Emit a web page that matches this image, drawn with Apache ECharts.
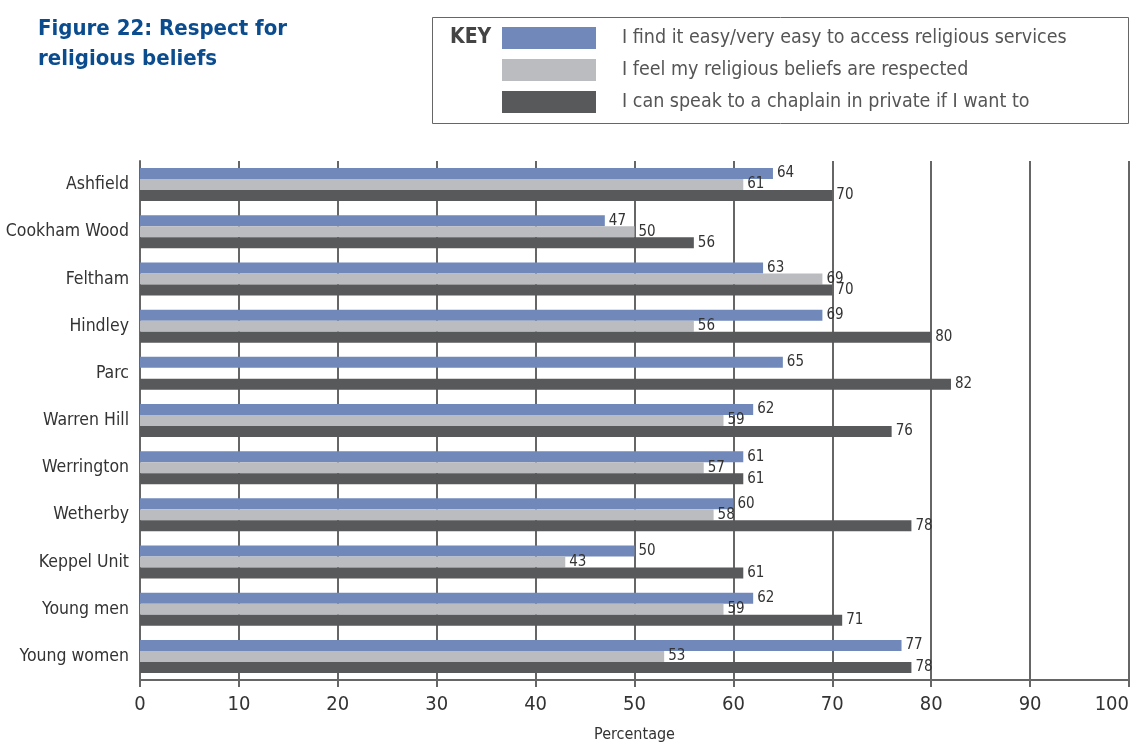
<!DOCTYPE html>
<html><head><meta charset="utf-8">
<script src="https://cdn.jsdelivr.net/npm/echarts@6/dist/echarts.min.js"></script>
<style>html,body{margin:0;padding:0;background:#fff}#c{width:1142px;height:745px}</style>
</head><body><div id="c"></div>
<script>
const categories = ['Ashfield','Cookham Wood','Feltham','Hindley','Parc','Warren Hill','Werrington','Wetherby','Keppel Unit','Young men','Young women'];
const seriesNames = ['I find it easy/very easy to access religious services','I feel my religious beliefs are respected','I can speak to a chaplain in private if I want to'];
const accessServices = [64,47,63,69,65,62,61,60,50,62,77];
const beliefsRespected = [61,50,69,56,null,59,57,58,43,59,53];
const speakChaplain = [70,56,70,80,82,76,61,78,61,71,78];
const xTicks = [0,10,20,30,40,50,60,70,80,90,100];

const FONT = "'Liberation Sans Narrow','DejaVu Sans Condensed','Roboto Condensed',sans-serif";
const colors = ['#7189BA','#BBBCC0','#58595B'];
const chart = echarts.init(document.getElementById('c'));
const mk = (name, data, i) => ({
  name, type:'bar', data: data.map(v => v === null ? '-' : v),
  barWidth: 11, barGap: '0%',
  itemStyle:{color:colors[i]},
  label:{show:true, position:'right', distance:4, color:'#333', fontSize:15, fontFamily:FONT},
  z: 3
});
chart.setOption({
  animation:false,
  textStyle:{fontFamily:FONT},
  title:{text:'Figure 22: Respect for\nreligious beliefs', left:38, top:14, padding:0,
    textStyle:{color:'#0B4C8E', fontSize:22, fontWeight:'bold', fontFamily:FONT, lineHeight:30}},
  legend:{orient:'vertical', left:502, top:27, padding:0, itemWidth:94, itemHeight:22, itemGap:10,
    icon:'rect', selectedMode:false,
    textStyle:{fontSize:19.5, color:'#555', fontFamily:FONT, padding:[0,0,0,21]},
    data: seriesNames},
  graphic:[
    {type:'rect', shape:{x:432.5,y:17.5,width:696,height:106}, style:{fill:'none', stroke:'#666', lineWidth:1}},
    {type:'text', left:450, top:27, style:{text:'KEY', fontSize:21, fontWeight:'bold', fill:'#444', fontFamily:FONT}}
  ],
  grid:{left:140, right:13, top:161, bottom:65, containLabel:false, outerBoundsMode:'none'},
  xAxis:{type:'value', min:0, max:100, interval:10,
    name:'Percentage', nameLocation:'middle', nameGap:47,
    nameTextStyle:{fontSize:16, color:'#333', fontFamily:FONT},
    axisLine:{show:true, lineStyle:{color:'#666', width:2}},
    axisTick:{show:true, length:7, lineStyle:{color:'#666', width:2}},
    axisLabel:{fontSize:20, color:'#333', margin:15, fontFamily:FONT, alignMaxLabel:'right',
      formatter: v => xTicks.includes(v) ? String(v) : ''},
    splitLine:{show:true, lineStyle:{color:'#666', width:2}}
  },
  yAxis:{type:'category', data:categories, inverse:true,
    axisLine:{show:true, lineStyle:{color:'#666', width:2}},
    axisTick:{show:false},
    axisLabel:{fontSize:17.5, color:'#333', margin:11, fontFamily:FONT}
  },
  series:[mk(seriesNames[0], accessServices, 0), mk(seriesNames[1], beliefsRespected, 1), mk(seriesNames[2], speakChaplain, 2)]
});
</script></body></html>
